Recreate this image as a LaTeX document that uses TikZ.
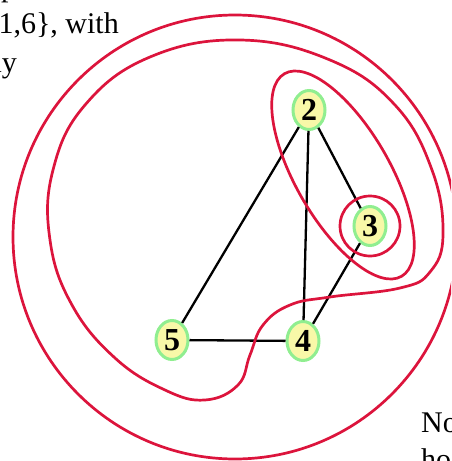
\documentclass[tikz,border=0pt]{standalone}
\usepackage{fontspec}
\setmainfont{Liberation Serif}
\usetikzlibrary{shapes.geometric}
\definecolor{crim}{RGB}{220,20,60}
\definecolor{vfill}{RGB}{248,248,168}
\definecolor{vdraw}{RGB}{144,238,144}

\begin{document}
\begin{tikzpicture}[x=1pt, y=-1pt,
  vertex/.style={ellipse, draw=vdraw, line width=3pt, fill=vfill, minimum width=32pt,
                 minimum height=39pt, inner sep=0pt, font=\fontsize{32}{38}\selectfont\bfseries},
  edge/.style={line width=2.3pt},
  ring/.style={draw=crim, line width=2.7pt},
  txt/.style={font=\fontsize{30}{36}\selectfont, inner sep=0pt}]

\useasboundingbox (0,0) rectangle (451,461);
\clip (0,0) rectangle (451,461);

\node[txt, anchor=base west] (frag1) at (1,-4) {p};
\node[txt, anchor=base east] (frag2) at (119,33) {\{1,6\}, with};
\node[txt, anchor=base east] (frag3) at (17,72) {ny};
\node[txt, anchor=base west] (frag4) at (421,432) {No};
\node[txt, anchor=base west] (frag5) at (421,469) {ho};

\node[vertex] (n2) at (309,110) {2};
\node[vertex] (n3) at (370,226) {3};
\node[vertex] (n4) at (303,341) {4};
\node[vertex] (n5) at (172,340) {5};

\draw[edge] (n2) -- (n5);
\draw[edge] (n2) -- (n4);
\draw[edge] (n2) -- (n3);
\draw[edge] (n3) -- (n4);
\draw[edge] (n5) -- (n4);

\draw[ring] (235,237) circle [radius=222];
\draw[ring] plot[smooth cycle, tension=0.7] coordinates {
  (240,40) (330,60) (395,105) (432,170) (443,235) (430,272) (400,288) (330,297)
  (290,305) (263,325) (250,355) (238,385) (205,400) (165,390) (115,358) (72,305)
  (50,240) (53,170) (85,105) (150,57)};
\draw[ring, rotate around={-60:(343,175)}] (343,175) ellipse [x radius=117, y radius=47];
\draw[ring] (n3) circle [radius=30];
\end{tikzpicture}
\end{document}
